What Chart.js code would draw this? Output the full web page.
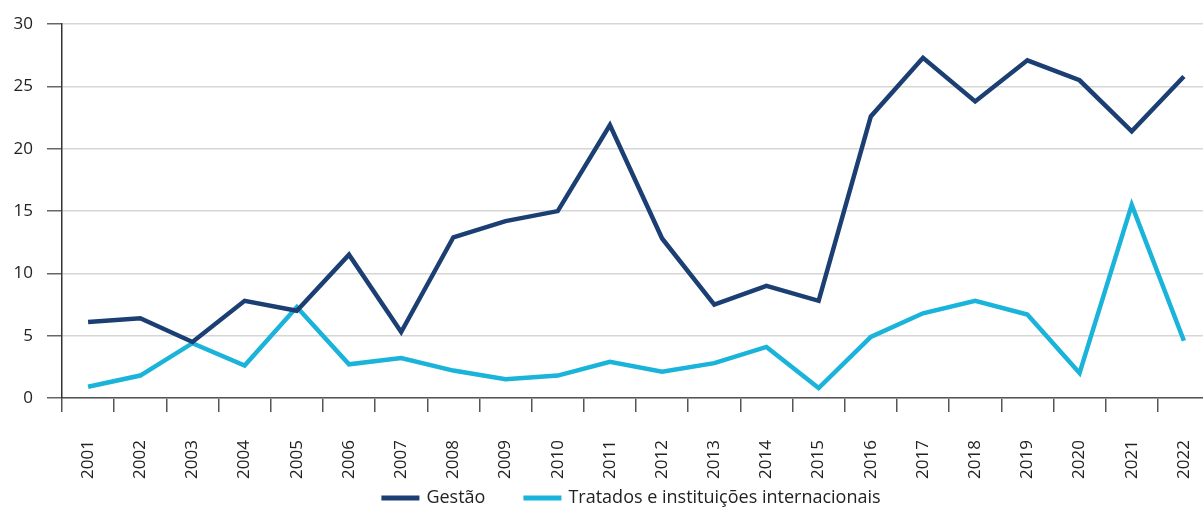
<!DOCTYPE html>
<html>
<head>
<meta charset="utf-8">
<script src="https://cdn.jsdelivr.net/npm/chart.js@4/dist/chart.umd.min.js"></script>
<style>
  html, body { margin: 0; padding: 0; background: #fff; overflow: hidden; }
  #wrap { position: relative; width: 1272px; height: 507px; }
</style>
</head>
<body>
<div id="wrap"><canvas id="c"></canvas></div>
<script>
const years = ['2001','2002','2003','2004','2005','2006','2007','2008','2009','2010','2011','2012','2013','2014','2015','2016','2017','2018','2019','2020','2021','2022'];
const gestao = [6.1, 6.4, 4.5, 7.8, 7.0, 11.5, 5.3, 12.9, 14.2, 15.0, 21.9, 12.8, 7.5, 9.0, 7.8, 22.6, 27.3, 23.8, 27.1, 25.5, 21.4, 25.8];
const tratados = [0.9, 1.8, 4.4, 2.6, 7.3, 2.7, 3.2, 2.2, 1.5, 1.8, 2.9, 2.1, 2.8, 4.1, 0.8, 4.9, 6.8, 7.8, 6.7, 2.0, 15.5, 4.6];
const seriesNames = ['Gestão', 'Tratados e instituições internacionais'];
const yTicks = [0, 5, 10, 15, 20, 25, 30];

const FONT = '"Open Sans", "Noto Sans", sans-serif';
const dark = '#1b3f73';
const light = '#1ab3da';

// Custom bottom legend drawn on canvas
const legendPlugin = {
  id: 'customLegend',
  afterDraw(chart) {
    const ctx = chart.ctx;
    const boxW = 38, boxH = 5, gapText = 7, gapItems = 38;
    const y = 498;
    ctx.save();
    ctx.font = '18px ' + FONT;
    const items = chart.data.datasets.map(ds => ({ text: ds.label, color: ds.borderColor, w: ctx.measureText(ds.label).width }));
    const total = items.reduce((s, it) => s + boxW + gapText + it.w, 0) + gapItems * (items.length - 1);
    let x = 631 - total / 2;
    ctx.textBaseline = 'middle';
    ctx.textAlign = 'left';
    items.forEach(it => {
      ctx.fillStyle = it.color;
      ctx.fillRect(x, y - boxH / 2, boxW, boxH);
      x += boxW + gapText;
      ctx.fillStyle = '#222';
      ctx.fillText(it.text, x, y);
      x += it.w + gapItems;
    });
    ctx.restore();
  }
};

new Chart(document.getElementById('c'), {
  type: 'line',
  data: {
    labels: years,
    datasets: [
      { label: seriesNames[0], data: gestao, borderColor: dark, backgroundColor: dark, borderWidth: 4.5, pointRadius: 0, tension: 0, borderJoinStyle: 'miter' },
      { label: seriesNames[1], data: tratados, borderColor: light, backgroundColor: light, borderWidth: 4.5, pointRadius: 0, tension: 0, borderJoinStyle: 'miter' }
    ]
  },
  plugins: [legendPlugin],
  options: {
    responsive: true,
    maintainAspectRatio: false,
    animation: false,
    layout: { padding: { top: 23, right: 62, left: 0, bottom: 0 } },
    plugins: {
      tooltip: { enabled: false },
      legend: { display: false }
    },
    scales: {
      x: {
        offset: true,
        afterFit: (axis) => { axis.height = 109; },
        grid: { drawOnChartArea: false, drawTicks: true, tickLength: 14, tickColor: '#555', lineWidth: 1.5, offset: true },
        border: { color: '#555', width: 1.5 },
        ticks: { font: { family: FONT, size: 17 }, color: '#222', minRotation: 90, maxRotation: 90, padding: 28, autoSkip: false }
      },
      y: {
        min: 0, max: 30,
        afterFit: (axis) => { axis.width = 62; },
        afterBuildTicks: (axis) => { axis.ticks = yTicks.map(v => ({ value: v })); },
        grid: { color: '#d6d6d6', lineWidth: 1.5, tickLength: 15, tickColor: '#666' },
        border: { color: '#333', width: 1.5 },
        ticks: { font: { family: FONT, size: 17 }, color: '#222', padding: 14 }
      }
    }
  }
});
</script>
</body>
</html>
